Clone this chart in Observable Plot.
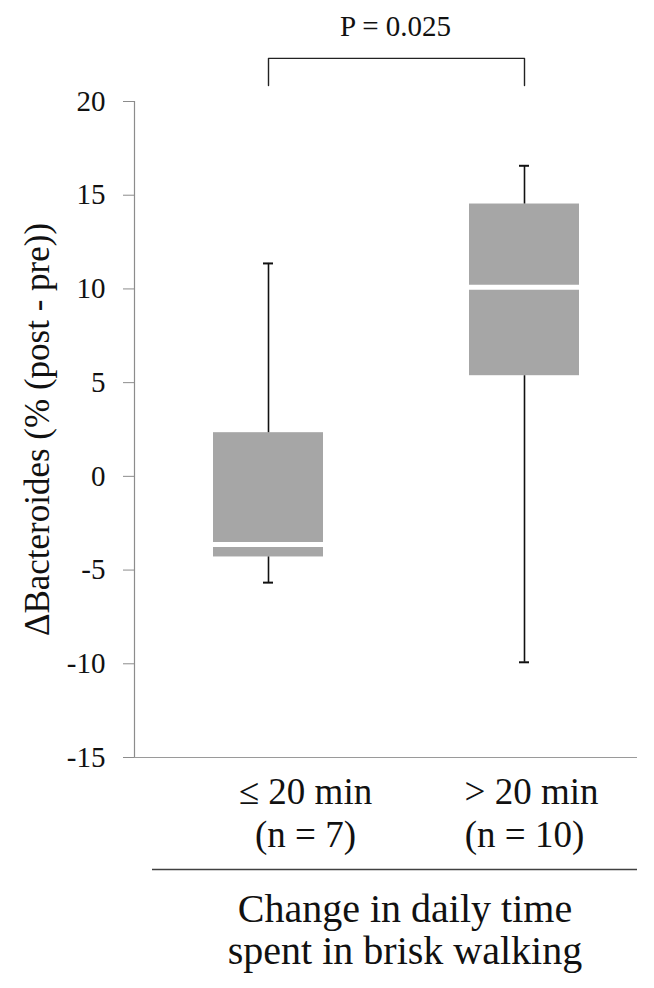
<!DOCTYPE html>
<html>
<head>
<meta charset="utf-8">
<script src="https://cdn.jsdelivr.net/npm/d3@7"></script>
<script src="https://cdn.jsdelivr.net/npm/@observablehq/plot@0.6"></script>
<style>
  html, body { margin: 0; padding: 0; background: #fff; }
  #chart svg, #chart svg text { font-family: "Liberation Serif", "Times New Roman", serif !important; }
</style>
</head>
<body>
<div id="chart"></div>
<script>
// ---- data ----
const groups = ["≤ 20 min", "> 20 min"];
const nLabels = ["(n = 7)", "(n = 10)"];
const whiskerLow = [-5.67, -9.92];
const q1 = [-4.3, 5.37];
const median = [-3.63, 10.09];
const q3 = [2.33, 14.53];
const whiskerHigh = [11.36, 16.57];
const yTicks = [20, 15, 10, 5, 0, -5, -10, -15];
const pLabel = "P = 0.025";
const bracketEnds = [20.85, 22.3]; // bracket foot and top, in y units
const xTitle = ["Change in daily time", "spent in brisk walking"];
const yTitle = "ΔBacteroides (% (post - pre))";

const data = groups.map((g, i) => ({
  group: g, n: nLabels[i],
  lo: whiskerLow[i], q1: q1[i], med: median[i], q3: q3[i], hi: whiskerHigh[i]
}));
const bracket = [
  {group: groups[0], y: bracketEnds[0]},
  {group: groups[0], y: bracketEnds[1]},
  {group: groups[1], y: bracketEnds[1]},
  {group: groups[1], y: bracketEnds[0]}
];

const serif = "'Liberation Serif', 'Times New Roman', serif";

const chart = Plot.plot({
  width: 654,
  height: 988,
  marginTop: 101,
  marginBottom: 231,
  marginLeft: 134,
  marginRight: 17,
  style: {fontFamily: serif, background: "#fff", color: "#111"},
  x: {domain: groups, type: "band", paddingInner: 0.571, paddingOuter: 0.266, align: 0.579, axis: null},
  y: {domain: [-15, 20], axis: null},
  marks: [
    Plot.axisY({ticks: yTicks, tickSize: 11, tickPadding: 18, tickFormat: d => String(d),
      fontSize: 29, fontFamily: serif, stroke: "#8c8c8c", label: null}),
    Plot.frame({anchor: "left", stroke: "#8c8c8c", strokeWidth: 1.2}),
    Plot.ruleY([-15], {stroke: "#9a9a9a", strokeWidth: 1.2}),
    Plot.barY(data, {x: "group", y1: "q1", y2: "q3", fill: "#a6a6a6"}),
    Plot.ruleX(data, {x: "group", y1: "lo", y2: "q1", stroke: "#111", strokeWidth: 1.6}),
    Plot.ruleX(data, {x: "group", y1: "q3", y2: "hi", stroke: "#111", strokeWidth: 1.6}),
    Plot.tickY(data, {x: "group", y: "lo", insetLeft: 50, insetRight: 50, stroke: "#111", strokeWidth: 2}),
    Plot.tickY(data, {x: "group", y: "hi", insetLeft: 50, insetRight: 50, stroke: "#111", strokeWidth: 2}),
    Plot.tickY(data, {x: "group", y: "med", stroke: "#fff", strokeWidth: 5}),
    Plot.line(bracket, {x: "group", y: "y", stroke: "#222", strokeWidth: 1.4}),
    Plot.text([pLabel], {frameAnchor: "top", lineAnchor: "middle", dy: -75, dx: 9.5, fontSize: 29,
      fontFamily: serif, fill: "#111"}),
    // category labels
    Plot.text(data.slice(0, 1), {x: "group", text: "group", frameAnchor: "bottom", lineAnchor: "middle",
      dy: 35, dx: 37, fontSize: 37, fontFamily: serif, fill: "#111"}),
    Plot.text(data.slice(1), {x: "group", text: "group", frameAnchor: "bottom", lineAnchor: "middle",
      dy: 35, dx: 7, fontSize: 37, fontFamily: serif, fill: "#111"}),
    Plot.text(data.slice(0, 1), {x: "group", text: "n", frameAnchor: "bottom", lineAnchor: "middle",
      dy: 78, dx: 37, fontSize: 37, fontFamily: serif, fill: "#111"}),
    Plot.text(data.slice(1), {x: "group", text: "n", frameAnchor: "bottom", lineAnchor: "middle",
      dy: 78, dx: 0, fontSize: 37, fontFamily: serif, fill: "#111"}),
    Plot.ruleY([-15], {dy: 112, insetLeft: 18, stroke: "#404040", strokeWidth: 1.5}),
    Plot.text([xTitle.join("\n")], {frameAnchor: "bottom", lineAnchor: "top", dy: 135, dx: 19,
      fontSize: 40, lineHeight: 1.05, fontFamily: serif, fill: "#111"}),
    Plot.text([yTitle], {frameAnchor: "left", textAnchor: "middle", lineAnchor: "middle", rotate: -90,
      dx: -97, dy: 0, fontSize: 35, fontFamily: serif, fill: "#111"})
  ]
});
document.getElementById("chart").appendChild(chart);
</script>
</body>
</html>
